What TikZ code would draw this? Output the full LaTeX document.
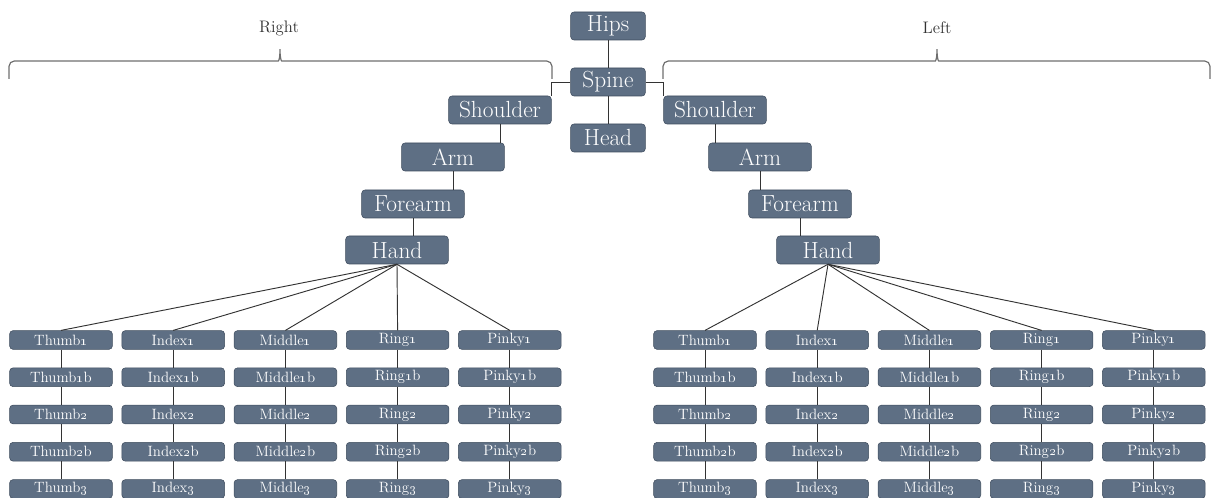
\documentclass[tikz,border=0pt]{standalone}
\usetikzlibrary{positioning}
\definecolor{boxFill}{HTML}{5E6F84}
\definecolor{boxLine}{HTML}{3E4C5E}
\definecolor{linkGray}{HTML}{333333}
\definecolor{braceGray}{HTML}{6E6E6E}
\begin{document}
\begin{tikzpicture}[
        x=0.75pt, y=-0.75pt,
        boneNode/.style={rectangle, rounded corners=2.5pt, draw=boxLine, fill=boxFill, text=white,
            minimum height=21pt, inner sep=0pt, font=\fontsize{17.5}{19}\selectfont},
        coreNode/.style={boneNode, minimum width=56pt},
        limbNode/.style={boneNode, minimum width=77pt},
        fingerNode/.style={boneNode, minimum width=77pt, minimum height=14pt, font=\fontsize{11.2}{12}\selectfont},
        link/.style={draw=linkGray, line width=0.7pt},
        braceLine/.style={draw=braceGray, line width=0.9pt, rounded corners=4pt},
        sideLabel/.style={text=linkGray, font=\fontsize{12.5}{14}\selectfont}
    ]
        \useasboundingbox (0,0) rectangle (1213,498);

        % Body
        \node[coreNode] (hips) at (608,26) {Hips};
        \node[coreNode] (spine) at (608,82) {Spine};
        \node[coreNode] (head) at (608,138) {Head};

        % Right arm
        \node[limbNode] (rShoulder) at (500,110) {Shoulder};
        \node[limbNode] (rArm) at (453,157) {Arm};
        \node[limbNode] (rForearm) at (413,204) {Forearm};
        \node[limbNode] (rHand) at (397,250) {Hand};

        % Left arm
        \node[limbNode] (lShoulder) at (715,110) {Shoulder};
        \node[limbNode] (lArm) at (760,157) {Arm};
        \node[limbNode] (lForearm) at (800,204) {Forearm};
        \node[limbNode] (lHand) at (828,250) {Hand};

        % Braces and side labels
        \node[sideLabel] (rightLabel) at (279,28) {Right};
        \node[sideLabel] (leftLabel) at (937,28) {Left};
        \draw[braceLine] (9,79) |- (273,61) to[out=0,in=-90] (280,46)
            to[out=-90,in=180] (287,61) -| (552,79);
        \draw[braceLine] (663,79) |- (930,61) to[out=0,in=-90] (937,46)
            to[out=-90,in=180] (944,61) -| (1210,79);

        % Edges
        \draw[link] (hips) -- (spine);
        \draw[link] (spine) -- (head);
        \draw[link] (spine.west) -| (rShoulder.north east);
        \draw[link] (spine.east) -| (lShoulder.north west);
        \foreach \side in {r,l} {
            \draw[link] (\side Shoulder.south) -- (\side Shoulder.south |- \side Arm.north);
            \draw[link] (\side Arm.south) -- (\side Arm.south |- \side Forearm.north);
            \draw[link] (\side Forearm.south) -- (\side Forearm.south |- \side Hand.north);
        }

        % Fingers
        \foreach \side/\fx in {r/61, l/705} {
            \foreach \fname [count=\i from 0] in {Thumb,Index,Middle,Ring,Pinky} {
                \foreach \lvl/\txt [count=\j from 0] in {1/\oldstylenums{1}, 1b/\oldstylenums{1}b,
                        2/\oldstylenums{2}, 2b/\oldstylenums{2}b, 3/\oldstylenums{3}} {
                    \node[fingerNode] (\side\fname\lvl) at ({\fx+112.2*\i}, {340+37.25*\j}) {\fname\txt};
                }
                \draw[link] (\side Hand.south) -- (\side\fname1.north);
                \foreach \a/\b in {1/1b, 1b/2, 2/2b, 2b/3}
                    \draw[link] (\side\fname\a.south) -- (\side\fname\b.north);
            }
        }
    \end{tikzpicture}
\end{document}
